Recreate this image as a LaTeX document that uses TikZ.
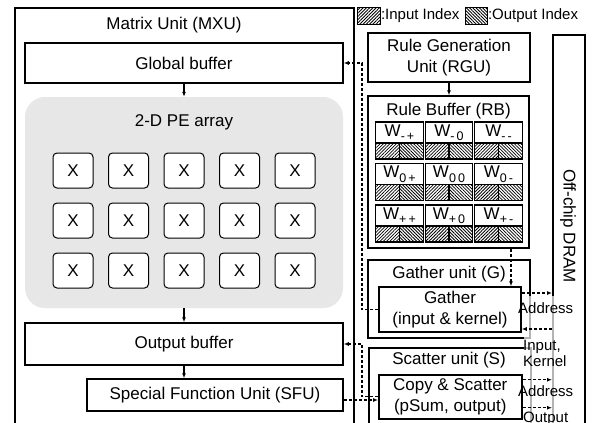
\documentclass[tikz,border=0pt]{standalone}
\usepackage{fontspec}
\setmainfont{Liberation Sans}
\usetikzlibrary{arrows.meta,patterns.meta}
\definecolor{pegray}{RGB}{231,231,231}
\newcommand{\wsub}[2]{W\raisebox{-4.5pt}{\fontsize{12.5}{12.5}\selectfont #1\,#2}}
\tikzset{
  frame/.style={draw, line width=1.5pt, inner sep=0pt},
  box/.style={draw, line width=1.5pt, inner sep=0pt, align=center, fill=white},
  pecell/.style={draw, line width=1pt, rounded corners=4pt, fill=white, minimum width=40pt, minimum height=35pt, inner sep=0pt},
  wcell/.style={draw, line width=1.2pt, fill=white, minimum width=47.5pt, minimum height=21pt, inner sep=0pt},
  hin/.style={draw, line width=1.2pt, inner sep=0pt, pattern={Lines[angle=45,distance=2.3pt,line width=0.8pt]}},
  hout/.style={draw, line width=1.2pt, inner sep=0pt, pattern={Lines[angle=-45,distance=2.3pt,line width=0.8pt]}},
  lab/.style={inner sep=0pt, font=\fontsize{15}{16}\selectfont},
  sarr/.style={-{Latex[length=5pt,width=4pt]}, line width=1.2pt},
  darr/.style={-{Latex[length=5pt,width=4pt]}, line width=1.3pt, dash pattern=on 3pt off 2pt},
}
\begin{document}
\begin{tikzpicture}[x=1pt,y=-1pt, font=\fontsize{17}{21}\selectfont]
\useasboundingbox (0,0) rectangle (592,423);
\clip (0,0) rectangle (592,423);
\fill[white] (0,0) rectangle (592,423);

% Matrix unit
\node[frame, anchor=north west, minimum width=339pt, minimum height=440pt] (mxu) at (14,7) {};
\node (mxut) at (174,25) {Matrix Unit (MXU)};
\node[box, minimum width=318pt, minimum height=40pt] (gb) at (184,63) {Global buffer};
\node[fill=pegray, rounded corners=20pt, minimum width=318pt, minimum height=211pt, inner sep=0pt] (pe) at (184,202.5) {};
\node (pet) at (184,122) {2-D PE array};
\foreach \i/\x in {1/73,2/128.5,3/184,4/239.5,5/295}
  \foreach \j/\y in {1/170.5,2/220.5,3/270.5}
    \node[pecell] (pe\i\j) at (\x,\y) {X};
\node[box, minimum width=318pt, minimum height=42pt] (ob) at (184,344) {Output buffer};
\node[box, minimum width=256pt, minimum height=32pt] (sfu) at (215,395) {Special Function Unit (SFU)};
\draw[sarr] (gb.south) -- (pe.north);
\draw[sarr] (pe.south) -- (ob.north);
\draw[sarr] (ob.south) -- (ob.south |- sfu.north);

% legend
\node[hin, minimum width=23pt, minimum height=17pt, anchor=north west] (lin) at (357,7) {};
\node[lab, anchor=west] (lint) at (lin.east) {:Input Index};
\node[hout, minimum width=22pt, minimum height=17pt, anchor=north west] (lout) at (465,7) {};
\node[lab, anchor=west] (loutt) at (lout.east) {:Output Index};

% RGU and rule buffer
\node[box, minimum width=162pt, minimum height=49pt] (rgu) at (449,57.5) {Rule Generation\\Unit (RGU)};
\node[frame, minimum width=161pt, minimum height=152pt] (rb) at (448.5,172) {};
\node (rbt) at (448.5,111) {Rule Buffer (RB)};
\draw[sarr] (rgu.south) -- (rgu.south |- rb.north);
\foreach \j/\sa in {0/-,1/0,2/+}
  \foreach \i/\sb in {0/+,1/0,2/-} {
    \pgfmathsetmacro\cx{399.5+49.5*\i}
    \pgfmathsetmacro\cy{122+41.5*\j}
    \node[wcell] (w\i\j) at (\cx,\cy+10.5) {\wsub{\sa}{\sb}};
    \node[hin, minimum width=23.75pt, minimum height=16pt] (hi\i\j) at (\cx-11.875,\cy+29) {};
    \node[hout, minimum width=23.75pt, minimum height=16pt] (ho\i\j) at (\cx+11.875,\cy+29) {};
  }

% Gather and scatter units
\node[frame, minimum width=162pt, minimum height=78pt] (gu) at (449,299) {};
\node (gut) at (449,274) {Gather unit (G)};
\node[box, minimum width=142pt, minimum height=45pt] (g) at (450,309.5) {Gather\\(input \& kernel)};
\node[frame, anchor=north west, minimum width=162pt, minimum height=90pt] (su) at (368,347) {};
\node (sut) at (449,360) {Scatter unit (S)};
\node[box, anchor=north west, minimum width=143pt, minimum height=44pt] (cs) at (378,374) {Copy \& Scatter\\(pSum, output)};

% DRAM
\node[frame, anchor=north west, minimum width=32pt, minimum height=410pt] (dram) at (552,34) {};
\node[rotate=-90] (dramt) at (568,226) {Off-chip DRAM};

% veil of the label box
\fill[white, opacity=0.7] (524,296) rectangle (578,430);

% dashed connectors
\coordinate (xc) at (362,0);
\draw[darr] (g.west) -- (g.west -| xc) |- (gb.east);
\draw[darr] (cs.west) -- (cs.west -| xc) |- (ob.east);
\draw[darr] ([yshift=-5pt]sfu.east) -- ([yshift=-5pt]sfu.east -| cs.west);
\draw[darr] ([xshift=62.5pt]rb.south) -- ([xshift=62.5pt]rb.south |- g.north);
\draw[darr] ([yshift=16.5pt]g.east) -- ([yshift=16.5pt]g.east -| dram.west);
\draw[darr] ([yshift=-19.5pt]g.east -| dram.west) -- ([yshift=-19.5pt]g.east);
\draw[darr] ([yshift=17pt]cs.east) -- ([yshift=17pt]cs.east -| dram.west);
\draw[darr] ([yshift=-11pt]cs.east) -- ([yshift=-11pt]cs.east -| dram.west);

% labels
\node[lab, anchor=west] (a1) at (518,308) {Address};
\node[lab, anchor=west, align=left] (ik) at (523,353) {Input,\\Kernel};
\node[lab, anchor=west] (a2) at (518,391) {Address};
\node[lab, anchor=west] (outl) at (523,419) {Output};
\end{tikzpicture}
\end{document}
